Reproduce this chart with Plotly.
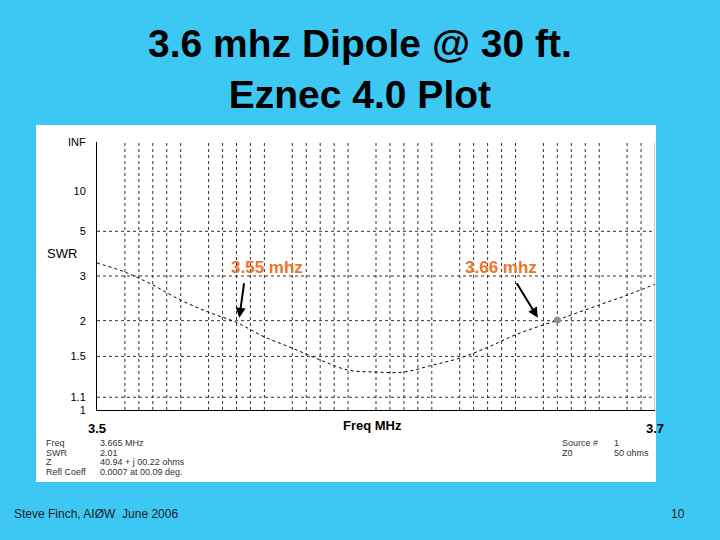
import plotly.graph_objects as go

freq = [3.50, 3.51, 3.52, 3.53, 3.54, 3.55, 3.56, 3.57, 3.58, 3.59, 3.60, 3.61, 3.62, 3.63, 3.64, 3.65, 3.665, 3.67, 3.68, 3.69, 3.70]
swr = [3.43, 3.12, 2.75, 2.39, 2.15, 1.97, 1.75, 1.60, 1.46, 1.35, 1.33, 1.33, 1.40, 1.48, 1.61, 1.78, 2.01, 2.10, 2.29, 2.50, 2.77]
marker_freq = [3.665]
marker_swr = [2.01]
swr_ticks = [1, 1.1, 1.5, 2, 3, 5, 10, None]
swr_tick_labels = ["1", "1.1", "1.5", "2", "3", "5", "10", "INF"]
swr_grid = [1.1, 1.5, 2, 3, 5]
freq_grid = [3.51, 3.515, 3.52, 3.525, 3.53, 3.54, 3.545, 3.55, 3.555, 3.56, 3.57, 3.575, 3.58, 3.585, 3.59,
             3.60, 3.605, 3.61, 3.615, 3.62, 3.63, 3.635, 3.64, 3.645, 3.65, 3.66, 3.665, 3.67, 3.675, 3.68, 3.69, 3.695]

def rho(s):
    return 1.0 if s is None else (s - 1) / (s + 1)

fig = go.Figure()
fig.add_trace(go.Scatter(x=freq, y=[rho(s) for s in swr], mode="lines",
                         line=dict(color="black", width=1, dash="dot", shape="spline"), hoverinfo="skip"))
fig.add_trace(go.Scatter(x=marker_freq, y=[rho(s) for s in marker_swr], mode="markers",
                         marker=dict(color="#909090", size=7), hoverinfo="skip"))

shapes = [dict(type="rect", xref="paper", yref="paper", x0=36/720, x1=656/720, y0=1-482/540, y1=1-125/540,
               fillcolor="white", line=dict(width=0), layer="below")]
for f in freq_grid:
    shapes.append(dict(type="line", xref="x", yref="y", x0=f, x1=f, y0=0, y1=1,
                       line=dict(color="#333", width=1, dash="dot"), layer="below"))
for s in swr_grid:
    shapes.append(dict(type="line", xref="x", yref="y", x0=3.5, x1=3.7, y0=rho(s), y1=rho(s),
                       line=dict(color="#333", width=1, dash="dot"), layer="below"))
shapes.append(dict(type="line", xref="x", yref="y", x0=3.7, x1=3.7, y0=0, y1=1, line=dict(color="#999", width=1)))

F = "Arial, Liberation Sans"
def pa(x, y, text, size, color="black", xanchor="center"):
    return dict(x=x/720, y=1-y/540, xref="paper", yref="paper", text=text, showarrow=False,
                xanchor=xanchor, yanchor="middle", font=dict(size=size, color=color, family=F))

ann = [
    pa(360, 69, "<b>3.6 mhz Dipole @ 30 ft.<br>Eznec 4.0 Plot</b>", 39),
    pa(62, 254, "SWR", 13),
    pa(372, 425, "<b>Freq MHz</b>", 13),
    dict(x=3.551, y=rho(2.05), xref="x", yref="y", text="", showarrow=True, arrowhead=2, arrowwidth=2,
         arrowcolor="black", ax=5, ay=-36),
    dict(x=3.658, y=rho(2.05), xref="x", yref="y", text="", showarrow=True, arrowhead=2, arrowwidth=2,
         arrowcolor="black", ax=-22, ay=-36),
    pa(267, 267, "<b>3.55 mhz</b>", 17, "#E8762C"),
    pa(501, 267, "<b>3.66 mhz</b>", 17, "#E8762C"),
    pa(12, 514, "Steve Finch, AIØW  June 2006", 12, "#222", "left"),
    pa(687, 514, "10", 12, "#222", "right"),
]
info_left = [("Freq", "3.665 MHz"), ("SWR", "2.01"), ("Z", "40.94 + j 00.22 ohms"), ("Refl Coeff", "0.0007 at 00.09 deg.")]
for i, (a, b) in enumerate(info_left):
    yy = 443 + 9.7 * i
    ann.append(pa(44, yy, a, 9, "#333", "left"))
    ann.append(pa(98, yy, b, 9, "#333", "left"))
for i, (a, b) in enumerate([("Source #", "1"), ("Z0", "50 ohms")]):
    yy = 443 + 9.7 * i
    ann.append(pa(560, yy, a, 9, "#333", "left"))
    ann.append(pa(612, yy, b, 9, "#333", "left"))

fig.update_layout(
    width=720, height=540, margin=dict(l=0, r=0, t=0, b=0),
    paper_bgcolor="#3DC8F4", plot_bgcolor="white", showlegend=False,
    shapes=shapes, annotations=ann,
    xaxis=dict(domain=[97/720, 655/720], range=[3.5, 3.7], showgrid=False, zeroline=False, automargin=False,
               tickvals=[3.5, 3.7], ticktext=["<b>3.5</b>", "<b>3.7</b>"], ticks="", showline=True, linecolor="black",
               ticklabelstandoff=6, tickfont=dict(size=13, color="black", family=F)),
    yaxis=dict(domain=[1-410/540, 1-142/540], range=[0, 1], showgrid=False, zeroline=False, automargin=False,
               tickvals=[rho(s) for s in swr_ticks], ticktext=swr_tick_labels, ticks="", ticklabelstandoff=8,
               showline=True, linecolor="black", tickfont=dict(size=11, color="black", family=F)),
)
fig.write_html("out.html", config={"displayModeBar": False},
               post_script="document.body.style.margin='0';document.body.style.overflow='hidden';")
